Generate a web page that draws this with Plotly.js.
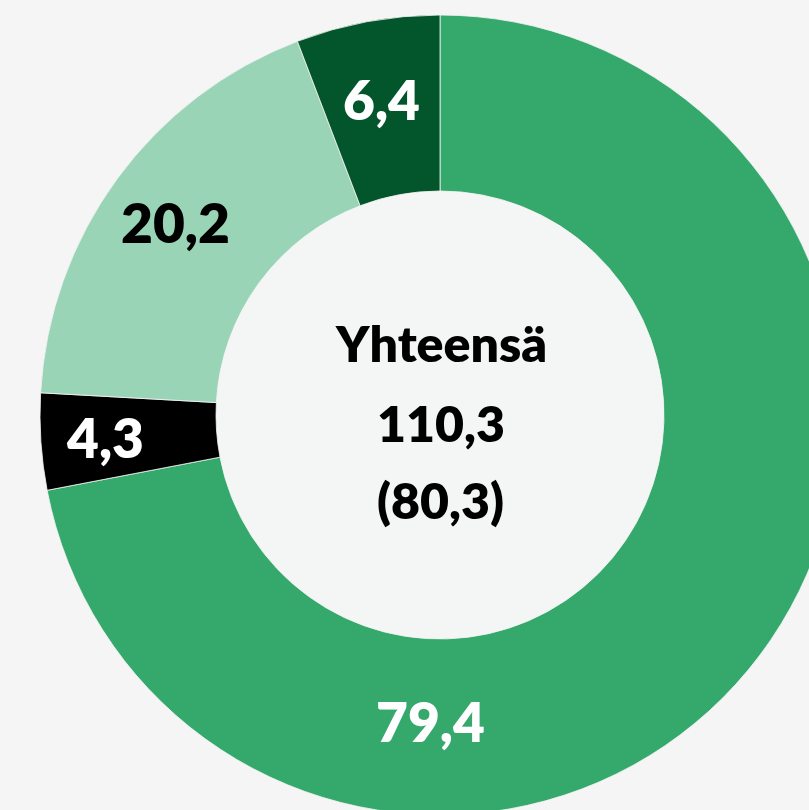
<!DOCTYPE html>
<html>
<head>
<meta charset="utf-8">
<script src="https://cdn.plot.ly/plotly-3.0.1.min.js"></script>
<style>
html,body{margin:0;padding:0;background:#f5f5f5;overflow:hidden;width:809px;height:810px;}
#chart{width:880px;height:830px;}
</style>
</head>
<body>
<div id="chart"></div>
<script>
// Data
const categories = ["A", "B", "C", "D"];
const values = [79.4, 4.3, 20.2, 6.4];
const sliceColors = ["#35a96b", "#000000", "#99d4b7", "#03552b"];
const labelColors = ["#ffffff", "#ffffff", "#000000", "#ffffff"];
const centerLines = ["Yhteensä", "110,3", "(80,3)"];

const FONT = "Lato, 'Open Sans', sans-serif";

// geometry (pixels): plot area 880 x 800, offset top 15
const W = 880, H = 800, TOP = 15;
const CX = 440, CY = TOP + H / 2;
const toPaperX = px => px / W;
const toPaperY = py => (TOP + H - py) / H;

const trace = {
  type: "pie",
  labels: categories,
  values: values,
  sort: false,
  direction: "clockwise",
  rotation: 0,
  hole: 0.56,
  marker: { colors: sliceColors, line: { color: "rgba(245,245,245,0.8)", width: 1 } },
  textinfo: "none",
  showlegend: false,
  hoverinfo: "none",
  domain: { x: [0, 1], y: [0, 1] }
};

// value labels placed at each slice's mid-angle (first, largest slice label sits at the bottom)
const total = values.reduce((a, b) => a + b, 0);
const labelRadius = [306, 336, 328, 321];
const annotations = [];
let cum = 0;
values.forEach((v, i) => {
  let mid = (cum + v / 2) / total * 2 * Math.PI;
  cum += v;
  if (i === 0) mid = Math.PI + 0.03;
  const px = CX + labelRadius[i] * Math.sin(mid);
  const py = CY - labelRadius[i] * Math.cos(mid);
  annotations.push({
    text: v.toFixed(1).replace(".", ","),
    x: toPaperX(px), y: toPaperY(py), xref: "paper", yref: "paper",
    xanchor: "center", yanchor: "middle", showarrow: false,
    font: { family: FONT, size: 55, color: labelColors[i], weight: 800 }
  });
});

const centerPy = [343, 423, 500];
centerLines.forEach((t, i) => {
  annotations.push({ text: t, x: toPaperX(441), y: toPaperY(centerPy[i]), xref: "paper", yref: "paper",
    xanchor: "center", yanchor: "middle", showarrow: false,
    font: { family: FONT, size: 50, color: "#000000", weight: 800 } });
});

const layout = {
  width: W,
  height: H + 30,
  margin: { l: 0, r: 0, t: TOP, b: 15 },
  paper_bgcolor: "#f5f5f5",
  plot_bgcolor: "#f5f5f5",
  annotations: annotations,
  shapes: [
    { type: "circle", xref: "paper", yref: "paper", layer: "below",
      x0: toPaperX(CX - 224), x1: toPaperX(CX + 224), y0: toPaperY(CY + 224), y1: toPaperY(CY - 224),
      fillcolor: "#f4f6f5", line: { width: 0 } }
  ]
};

Plotly.newPlot("chart", [trace], layout, { displayModeBar: false, staticPlot: true });
</script>
</body>
</html>
